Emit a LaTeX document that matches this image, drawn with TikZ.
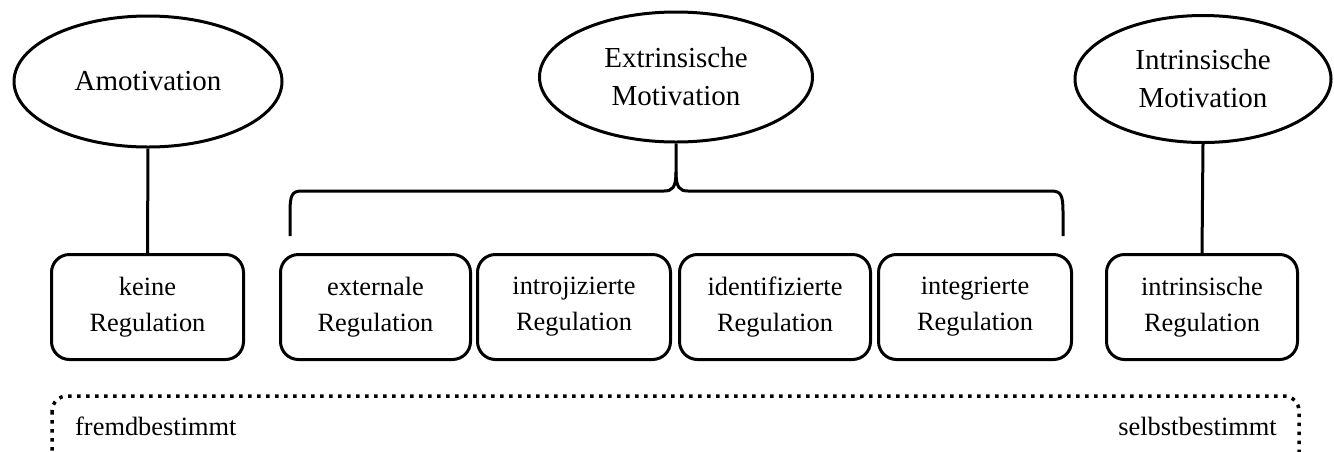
\documentclass[tikz,border=0pt]{standalone}
\usepackage{fontspec}
\setmainfont{Liberation Serif}
\usetikzlibrary{shapes.geometric}

\tikzset{
  stroke/.style={line width=3pt, line join=round},
  motiv/.style={stroke, draw, ellipse, inner sep=0pt, align=center,
    font=\fontsize{29}{38}\selectfont},
  regbox/.style={stroke, draw, rounded corners=18pt, inner sep=0pt,
    minimum height=105pt, align=center,
    font=\fontsize{26.4}{36}\selectfont},
  sdtscale/.style={line width=3.5pt, dash pattern=on 3.5pt off 5.5pt,
    rounded corners=15pt},
  scalelabel/.style={inner sep=0pt, font=\fontsize{26.4}{36}\selectfont}
}

\begin{document}
\begin{tikzpicture}[x=1pt, y=-1pt]
\useasboundingbox (0,0) rectangle (1334,451);

% motivation types
\node[motiv, minimum width=268pt, minimum height=131pt] (amot) at (148,81.5) {Amotivation};
\node[motiv, minimum width=273pt, minimum height=130pt] (ext)  at (676,77) {Extrinsische\\Motivation};
\node[motiv, minimum width=256pt, minimum height=127pt] (intr) at (1203,79) {Intrinsische\\Motivation};

% regulation styles
\node[regbox, minimum width=192pt] (keine) at (147.5,307) {keine\\Regulation};
\node[regbox, minimum width=190pt] (extreg) at (375.5,307) {externale\\Regulation};
\node[regbox, minimum width=193pt] (introj) at (574,307) {introjizierte\\Regulation};
\node[regbox, minimum width=191pt] (ident) at (775,307) {identifizierte\\Regulation};
\node[regbox, minimum width=193pt] (integ) at (975,307) {integrierte\\Regulation};
\node[regbox, minimum width=191pt] (intreg) at (1202,307) {intrinsische\\Regulation};

% single connectors
\draw[stroke] (amot.south) -- (keine.north);
\draw[stroke] (intr.south) -- (intreg.north);

% curly brace below the extrinsic ellipse
\coordinate (bL) at (290,236);
\coordinate (bR) at (1063,236);
\coordinate (cusp) at (676,172);
\draw[stroke] (bL) -- (290,212) .. controls (290,195) and (292,191) .. (302,191)
  -- (664,191) .. controls (672,191) and (676,188) .. (cusp) -- (ext.south);
\draw[stroke] (cusp) .. controls (676,188) and (680,191) .. (688,191)
  -- (1051,191) .. controls (1061,191) and (1063,195) .. (1063,212) -- (bR);

% self-determination scale
\begin{scope}
  \clip (0,0) rectangle (1334,451);
  \draw[sdtscale] (52,396) rectangle (1299,472);
\end{scope}
\node[scalelabel, anchor=base west] (fremd) at (75,435) {fremdbestimmt};
\node[scalelabel, anchor=base east] (selbst) at (1277,435) {selbstbestimmt};
\end{tikzpicture}
\end{document}
